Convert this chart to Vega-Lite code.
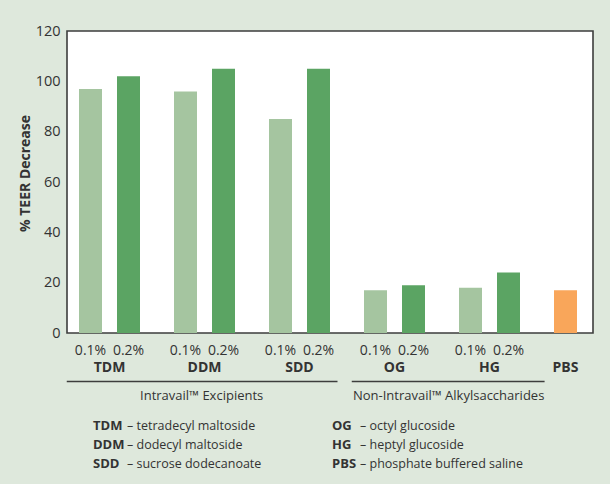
{
  "$schema": "https://vega.github.io/schema/vega-lite/v6.json",
  "width": 526,
  "height": 302,
  "autosize": {"type": "none"},
  "padding": {"left": 67, "top": 31, "right": 17, "bottom": 151},
  "background": "#dee8dc",
  "config": {
    "view": {"fill": "white", "stroke": "#3d3d3d", "strokeWidth": 1.6},
    "font": "Open Sans",
    "text": {"color": "#333333", "font": "Open Sans"}
  },
  "datasets": {
    "bars": [
      {"group": "TDM", "conc": "0.1%", "series": "0.1%", "value": 97},
      {"group": "TDM", "conc": "0.2%", "series": "0.2%", "value": 102},
      {"group": "DDM", "conc": "0.1%", "series": "0.1%", "value": 96},
      {"group": "DDM", "conc": "0.2%", "series": "0.2%", "value": 105},
      {"group": "SDD", "conc": "0.1%", "series": "0.1%", "value": 85},
      {"group": "SDD", "conc": "0.2%", "series": "0.2%", "value": 105},
      {"group": "OG", "conc": "0.1%", "series": "0.1%", "value": 17},
      {"group": "OG", "conc": "0.2%", "series": "0.2%", "value": 19},
      {"group": "HG", "conc": "0.1%", "series": "0.1%", "value": 18},
      {"group": "HG", "conc": "0.2%", "series": "0.2%", "value": 24},
      {"group": "PBS", "conc": "0.1%", "series": "PBS", "value": 17}
    ],
    "legend": [
      {"col": "L", "line": 1, "abbr": "TDM", "desc": "– tetradecyl maltoside"},
      {"col": "L", "line": 2, "abbr": "DDM", "desc": "– dodecyl maltoside"},
      {"col": "L", "line": 3, "abbr": "SDD", "desc": "– sucrose dodecanoate"},
      {"col": "R", "line": 1, "abbr": "OG", "desc": "– octyl glucoside"},
      {"col": "R", "line": 2, "abbr": "HG", "desc": "– heptyl glucoside"},
      {"col": "R", "line": 3, "abbr": "PBS", "desc": "– phosphate buffered saline"}
    ]
  },
  "layer": [
    {
      "data": {"name": "bars"},
      "layer": [
        {
          "mark": {"type": "bar"},
          "encoding": {
            "x": {
              "field": "group",
              "type": "nominal",
              "sort": null,
              "scale": {"domain": ["TDM", "DDM", "SDD", "OG", "HG", "PBS"], "range": [-5, 565], "paddingInner": 0, "paddingOuter": 0},
              "axis": null
            },
            "xOffset": {
              "field": "conc",
              "type": "nominal",
              "scale": {"domain": ["0.1%", "0.2%"], "paddingInner": 0.395, "paddingOuter": 0.4474}
            },
            "y": {
              "field": "value",
              "type": "quantitative",
              "scale": {"domain": [0, 120], "nice": false},
              "axis": {
                "values": [0, 20, 40, 60, 80, 100, 120],
                "title": "% TEER Decrease",
                "titleFont": "Open Sans",
                "titleFontSize": 14,
                "titleFontWeight": "bold",
                "titleColor": "#333333",
                "titleAngle": -90,
                "titleX": -42,
                "titleY": 142,
                "titleBaseline": "middle",
                "titleAlign": "center",
                "labelFont": "Open Sans",
                "labelFontSize": 14.5,
                "labelColor": "#333333",
                "labelPadding": 7,
                "ticks": false,
                "domain": false,
                "grid": false
              }
            },
            "color": {
              "field": "series",
              "type": "nominal",
              "scale": {"domain": ["0.1%", "0.2%", "PBS"], "range": ["#a5c5a0", "#5ba463", "#f9a65a"]},
              "legend": null
            }
          }
        },
        {
          "transform": [{"filter": "datum.group !== 'PBS'"}],
          "mark": {"type": "text", "fontSize": 14, "baseline": "middle"},
          "encoding": {
            "x": {"field": "group", "type": "nominal"},
            "xOffset": {"field": "conc", "type": "nominal"},
            "y": {"datum": -7},
            "text": {"field": "conc"}
          }
        },
        {
          "transform": [{"filter": "datum.conc === '0.1%' && datum.group !== 'PBS'"}],
          "mark": {"type": "text", "fontSize": 14, "fontWeight": "bold", "baseline": "middle"},
          "encoding": {
            "x": {"field": "group", "type": "nominal"},
            "y": {"datum": -14},
            "text": {"field": "group"}
          }
        },
        {
          "transform": [{"filter": "datum.group === 'PBS'"}],
          "mark": {"type": "text", "fontSize": 14, "fontWeight": "bold", "baseline": "middle"},
          "encoding": {
            "x": {"field": "group", "type": "nominal"},
            "xOffset": {"field": "conc", "type": "nominal"},
            "y": {"datum": -14},
            "text": {"field": "group"}
          }
        },
        {
          "data": {"values": [{"label": "Intravail™ Excipients"}]},
          "layer": [
            {
              "mark": {"type": "rule", "color": "#3d3d3d", "strokeWidth": 1.5},
              "encoding": {
                "x": {"datum": "TDM", "bandPosition": 0.05},
                "x2": {"datum": "SDD", "bandPosition": 0.9},
                "y": {"datum": -19.3}
              }
            },
            {
              "mark": {"type": "text", "fontSize": 13, "baseline": "middle"},
              "encoding": {
                "x": {"datum": "DDM", "bandPosition": 0.47},
                "y": {"datum": -25},
                "text": {"field": "label"}
              }
            }
          ]
        },
        {
          "data": {"values": [{"label": "Non-Intravail™ Alkylsaccharides"}]},
          "layer": [
            {
              "mark": {"type": "rule", "color": "#3d3d3d", "strokeWidth": 1.5},
              "encoding": {
                "x": {"datum": "OG", "bandPosition": 0.05},
                "x2": {"datum": "HG", "bandPosition": 1.08},
                "y": {"datum": -19.3}
              }
            },
            {
              "mark": {"type": "text", "fontSize": 13, "baseline": "middle"},
              "encoding": {
                "x": {"datum": "HG", "bandPosition": 0.07},
                "y": {"datum": -25},
                "text": {"field": "label"}
              }
            }
          ]
        }
      ]
    },
    {
      "data": {"name": "legend"},
      "encoding": {
        "x": {"field": "col", "type": "nominal", "scale": {"type": "point", "domain": ["L", "R"], "range": [26, 265], "padding": 0}, "axis": null},
        "y": {"field": "line", "type": "ordinal", "scale": {"type": "point", "domain": [1, 2, 3], "range": [394.6, 433.3], "padding": 0}, "axis": null}
      },
      "layer": [
        {
          "mark": {"type": "text", "align": "left", "baseline": "middle", "fontWeight": "bold", "fontSize": 13},
          "encoding": {"text": {"field": "abbr"}}
        },
        {
          "transform": [{"filter": "datum.col === 'L'"}],
          "mark": {"type": "text", "align": "left", "baseline": "middle", "fontSize": 12.5, "dx": 34},
          "encoding": {"text": {"field": "desc"}}
        },
        {
          "transform": [{"filter": "datum.col === 'R'"}],
          "mark": {"type": "text", "align": "left", "baseline": "middle", "fontSize": 12.5, "dx": 28},
          "encoding": {"text": {"field": "desc"}}
        }
      ]
    }
  ],
  "resolve": {"scale": {"x": "independent", "y": "independent"}}
}
